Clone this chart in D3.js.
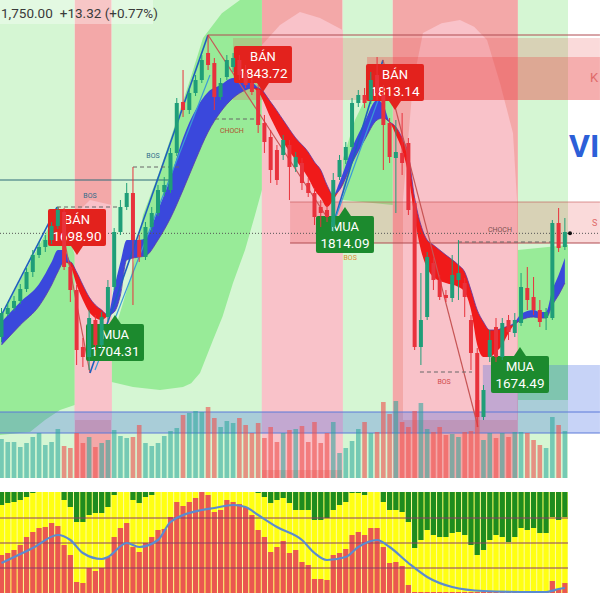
<!DOCTYPE html>
<html><head><meta charset="utf-8">
<script src="https://cdn.jsdelivr.net/npm/d3@7"></script>
<style>body{margin:0;background:#fff}svg{display:block}</style>
</head><body><svg id="c" width="600" height="600"></svg>
<script>
// ---------- DATA ----------
const opens=[1687.8,1701.6,1705.2,1709.4,1716.6,1726.8,1737,1741.8,1746,1754.4,1762.8,1729.8,1716,1681.8,1675.8,1698,1683,1699.8,1717.8,1750.8,1765.8,1774.2,1746,1735.8,1753.8,1762.2,1774.8,1776,1798.2,1828.8,1824,1834.2,1842,1858.2,1852.2,1831.8,1843.8,1849.8,1854,1846.2,1840.2,1836,1816.2,1807.8,1800,1797,1803,1789.8,1792.2,1780.2,1774.2,1765.8,1764,1753.8,1783.8,1794,1801.8,1828.2,1833,1830,1845,1833,1816.2,1795.2,1798.2,1804.2,1768.2,1681.8,1699.8,1732.2,1722,1713,1711.2,1722,1720.2,1698,1678.2,1639.8,1675.8,1693.8,1675.8,1698,1690.2,1696.2,1717.2,1711.8,1704,1699.2,1699.2,1756.2,1741.8];
const highs=[1705.2,1708.8,1712.4,1719.6,1729.2,1740,1744.8,1749,1756.8,1765.8,1765.2,1732.8,1719,1687.2,1704,1701,1702.8,1722,1753.2,1770,1780.2,1789.8,1749,1756.8,1765.8,1779,1783.8,1801.2,1831.2,1848,1837.2,1845,1857,1869,1855.2,1843.2,1857,1858.2,1857,1851,1843.2,1839,1821,1812,1803,1809,1806,1798.8,1795.2,1783.2,1777.2,1770,1767,1786.2,1797,1804.8,1831.2,1836,1837.2,1846.8,1855.8,1839,1819.2,1818,1822.2,1807.2,1771.2,1726.2,1738.8,1735.2,1725,1716,1737,1746,1723.2,1701,1681.2,1659,1692,1699.2,1699.2,1701,1702.2,1726.2,1729.8,1723.8,1710,1705.2,1758,1765.2,1759.2];
const lows=[1684.8,1700.4,1703.4,1707.6,1714.8,1723.8,1735.2,1738.8,1743.6,1752.6,1728,1708.8,1671,1669.8,1668,1680,1681.2,1696.8,1716,1749,1764,1707,1732.8,1734,1750.8,1760.4,1772.4,1774.2,1796.4,1819.8,1821.6,1832.4,1840.2,1848,1824,1830,1842,1846.8,1842,1837.2,1833,1810.2,1798.2,1780.2,1779,1794,1770,1786.8,1776,1771.8,1755,1753.8,1756.8,1750.8,1782,1791.6,1800,1825.8,1825.2,1827.6,1830,1788,1792.2,1762.2,1785,1761,1680,1671,1698,1716,1710,1708.8,1708.8,1710,1699.8,1668,1633.8,1638,1672.8,1672.8,1674,1686,1687.8,1694.4,1704,1701,1693.8,1692,1698,1738.8,1740];
const closes=[1702.2,1705.2,1709.4,1716.6,1726.8,1737,1741.8,1746,1754.4,1764,1729.8,1716,1680,1675.8,1699.2,1683,1699.8,1717.8,1750.8,1765.8,1774.2,1746,1735.8,1753.8,1762.2,1776,1779,1798.2,1828.2,1824,1834.2,1842,1854,1851,1831.8,1840.2,1854,1855.2,1845,1839,1834.8,1815,1804.8,1788,1782,1806,1789.8,1795.8,1780.2,1774.2,1759.8,1762.2,1759.8,1782,1794,1801.8,1828.2,1833,1828.2,1842,1834.2,1815,1795.8,1798.8,1792.2,1764,1681.8,1698,1735.8,1722,1711.8,1711.2,1725,1726.2,1711.8,1678.2,1639.8,1656,1686,1675.8,1696.2,1690.8,1698,1717.8,1710,1704,1696.8,1702.8,1756.2,1741.2,1750.8];
const volumes=[39,36,36,31,35,41,45,33,36,49,32,30,45,35,41,31,35,38,48,42,40,41,53,35,32,35,42,47,50,63,65,67,66,71,60,51,57,55,60,53,45,55,40,51,36,45,48,49,52,36,56,35,45,56,25,30,37,49,56,45,46,76,64,77,56,51,67,75,49,46,51,43,44,41,46,47,78,38,45,40,45,41,46,46,45,38,33,30,61,53,47];

const ribbonIdx=[0,3,6,8,9,10,11,12,13,14,15,16,17,18,19,20,22,23,25,27,29,31,33,35,37,39,40,41,43,45,47,49,50,51,52,53,54,56,58,60,61,62,63,64,65,66,67,68,69,71,73,74,75,76,77,78,79,80,81,82,83,85,86,87,88,89,90];
const emaFast=[1696.8,1708.8,1719.6,1732.8,1740,1740,1730.4,1719,1710,1702.8,1699.2,1698,1700.4,1717.2,1732.8,1746,1746,1747.2,1764,1783.2,1807.2,1824,1834.8,1839,1843.2,1843.2,1840.8,1834.8,1819.2,1804.8,1794,1783.2,1776,1771.2,1765.8,1770,1780.8,1801.2,1816.8,1830,1827,1816.8,1809,1800,1785,1759.2,1740,1729.2,1723.8,1720.2,1717.8,1714.8,1704,1683,1675.8,1675.8,1678.8,1683,1690.2,1696.8,1701.6,1704,1702.8,1702.8,1716,1725,1735.2];
const emaSlow=[1683,1695,1706.4,1719,1726.8,1732.8,1732.8,1726.8,1719,1711.8,1707,1704,1701,1702.8,1713,1734,1735.8,1736.4,1746,1759.2,1776,1794,1810.8,1822.8,1831.2,1836,1837.2,1837.2,1828.8,1818,1807.2,1798.8,1792.8,1788,1779,1773,1776,1792.2,1806,1818,1819.2,1816.8,1813.8,1807.2,1797,1771.2,1755,1746,1743,1737,1731,1726.8,1716,1704,1696.8,1692,1692,1693.2,1694.4,1695.6,1698,1699.8,1699.2,1699.2,1707,1713,1720.2];

const oscBear=[13,11,10,8,5,1,0,0,0,0,8,15,30,30,23,21,21,15,3,0,0,8,11,5,3,0,0,0,0,0,0,0,0,0,0,0,0,0,0,0,0,1,5,11,8,6,11,18,18,18,28,28,26,18,13,10,1,1,3,0,0,10,18,18,20,30,56,48,38,43,45,45,41,40,43,53,63,58,48,43,45,50,45,36,38,36,41,41,25,28,25];
const oscBull=[38,40,43,48,56,61,65,66,70,67,48,38,11,10,25,22,25,36,56,65,70,46,41,50,56,63,64,76,91,87,91,95,101,98,81,83,93,91,89,86,78,63,56,41,46,52,40,43,31,28,14,14,13,38,40,44,58,61,58,65,65,46,30,31,27,8,1,1,1,1,1,1,1,1,1,1,1,1,1,1,1,1,1,1,1,1,1,1,12,4,10];
const oscLineIdx=[0,5,9,11,13,16,17,20,22,25,27,32,34,37,39,41,44,48,50,52,55,57,60,62,65,68,72,77,85,87,89,90];
const oscLine=[30,45,58,53,40,34,36,50,46,53,71,83,85,88,86,78,66,53,40,33,36,46,53,46,30,16,6,2,1,1,4,5];
const oscLevels=[25,50,75];

const phaseStart=[-0.24,11.7,17.6,41.6,54.5,62.5,82.5];
const phaseEnd=[11.7,17.6,41.6,54.5,62.5,82.5,90.5];
const phaseType=['bull','bear','bull','bear','bull','bear','bull'];

const bullClouds=[
 [[-0.24,1699.2],[8.87,1762.8],[10.94,1746],[11.7,1737],[11.7,1647],[9.35,1644],[6.95,1638],[4.55,1630.8],[-0.24,1629]],
 [[17.6,1686],[20.53,1722],[22.6,1761],[25.32,1788],[27.72,1815],[30.11,1842],[32.19,1867.2],[35.2,1882],[38.1,1890],[41.6,1890],[41.6,1776],[40.5,1761],[38.9,1740],[36.98,1720.2],[35.3,1700],[33.79,1686],[31.71,1666.2],[30.3,1660],[28.99,1657.8],[25.32,1656],[21.01,1657.8],[17.6,1660.8]],
 [[54.5,1770],[54.5,1794],[56.47,1818],[59.19,1839],[60.46,1848],[62.5,1845],[62.5,1767]],
 [[82.5,1740],[90.5,1743],[90.5,1650],[82.5,1650]]
];
const bearClouds=[
 [[11.7,1761],[14.14,1770],[17.6,1767],[17.6,1638],[11.7,1638]],
 [[41.6,1863],[44.49,1875],[47.68,1882.8],[50.88,1879.2],[54.5,1872],[54.5,1608],[41.6,1608]],
 [[64.14,1638],[64.14,1770],[65.73,1840.2],[67.33,1870.2],[70.3,1876],[73.24,1878],[75.5,1874],[77.56,1866],[79.63,1840.2],[81.71,1810.2],[82.35,1770],[82.35,1638]]
];

const zoneStart=[36.98,58.4,46.1,-0.24,76.9];
const zoneEnd=[95.6,95.6,95.6,95.6,95.6];
const zoneTop=[1867.2,1855.8,1768.8,1642.8,1671];
const zoneBottom=[1830,1830,1744.2,1630.2,1642.8];
const zoneKind=['res','res2','res','sup','sup'];

const levelStart=[32.99,46.1,46.1,-0.24,-0.24,-0.24];
const levelEnd=[95.6,95.6,95.6,95.6,95.6,26.9];
const levelPrice=[1869,1768.8,1744.2,1642.8,1630.2,1782];
const levelKind=['res','resl','res','sup','sup','flat'];

const trendX1=[-0.24,9.03,14.14,14.94,32.99,52.96,52.96,60.94];
const trendP1=[1699.2,1765.8,1666.2,1668,1869,1755,1755,1854];
const trendX2=[8.87,14.14,32.99,33.31,52.48,60.94,60.46,76.12];
const trendP2=[1765.8,1666.2,1869,1845,1756.8,1854,1833,1633.8];
const trendKind=['bull','bear','bull','bull2','bear','bull','bull2','bear'];

const structX1=[8.87,21.01,34.1,66.85,72.92];
const structX2=[18.61,28.51,40.8,75.16,88.4];
const structPrice=[1765.8,1789.8,1818.6,1666.8,1744.8];
const structText=['BOS','BOS','CHOCH','BOS','CHOCH','BOS'];
const structTextIdx=[14.14,24.2,36.8,70.7,79.63,55.7];
const structTextPrice=[1771.2,1795.2,1810.2,1659.6,1750.8,1734];
const structTextColor=['#2e6b8a','#2e6b8a','#b0502d','#d04a4a','#7a5050','#e08a30'];

const labelIdx=[12.06,41.77,62.86,18.13,54.87,82.83];
const labelPrice=[1737,1834.8,1824,1701,1765.8,1681.8];
const labelSide=['BÁN','BÁN','BÁN','MUA','MUA','MUA'];
const labelValue=['1698.90','1843.72','1813.14','1704.31','1814.09','1674.49'];

const lastPrice=1750;
const headerPrice='1,750.00', headerChange='+13.32 (+0.77%)';

// ---------- SCALES ----------
const svg=d3.select('#c');
const x=d3.scaleLinear().domain([-0.24,90.5]).range([0,568]);
const y=d3.scaleLinear().domain([1890,1530]).range([0,600]);
const vy=d3.scaleLinear().domain([0,80]).range([478,398]);
const oy=d3.scaleLinear().domain([0,101]).range([593,492]);
const n=opens.length, idx=d3.range(n);
const FONT="Roboto, 'Liberation Sans', Arial, sans-serif";

svg.append('rect').attr('width',600).attr('height',600).attr('fill','#fff');

// phases
const gBg=svg.append('g');
phaseStart.forEach((s,k)=>gBg.append('rect').attr('x',x(s)).attr('y',0)
  .attr('width',x(phaseEnd[k])-x(s)).attr('height',vy(0))
  .attr('fill',phaseType[k]==='bull'?'#d5f6d3':'#f3a8a8'));
const poly=d3.line().x(d=>x(d[0])).y(d=>y(d[1])).curve(d3.curveLinearClosed);
bullClouds.forEach(c=>gBg.append('path').attr('d',poly(c)).attr('fill','#98eb98'));
bearClouds.forEach(c=>gBg.append('path').attr('d',poly(c)).attr('fill','#f9c2c9'));

// zones
const zoneFill={res:'rgba(232,72,72,0.20)',res2:'rgba(232,60,60,0.28)',sup:'rgba(70,110,230,0.30)'};
zoneStart.forEach((s,k)=>svg.append('rect').attr('x',x(s)).attr('y',y(zoneTop[k]))
  .attr('width',x(zoneEnd[k])-x(s)).attr('height',y(zoneBottom[k])-y(zoneTop[k]))
  .attr('fill',zoneFill[zoneKind[k]]));
const levelColor={res:'#b04a50',resl:'rgba(190,70,70,0.55)',sup:'#5a78d8',flat:'#2d6b78'};
levelPrice.forEach((p,k)=>svg.append('line').attr('x1',x(levelStart[k])).attr('x2',x(levelEnd[k]))
  .attr('y1',y(p)).attr('y2',y(p)).attr('stroke',levelColor[levelKind[k]]).attr('stroke-width',1));

// volume
idx.forEach(i=>svg.append('rect').attr('x',x(i)-2.3).attr('width',4.6)
  .attr('y',vy(volumes[i])).attr('height',vy(0)-vy(volumes[i]))
  .attr('fill',closes[i]>=opens[i]?'rgba(38,166,154,0.55)':'rgba(239,83,80,0.62)'));

// ribbon
const rib=ribbonIdx.map((r,k)=>({i:r,f:emaFast[k],s:emaSlow[k]}));
const areaUp=d3.area().x(d=>x(d.i)).y0(d=>y(d.s)).y1(d=>y(Math.max(d.f,d.s))).curve(d3.curveMonotoneX);
const areaDn=d3.area().x(d=>x(d.i)).y0(d=>y(d.s)).y1(d=>y(Math.min(d.f,d.s))).curve(d3.curveMonotoneX);
svg.append('path').attr('d',areaUp(rib)).attr('fill','#3a48dc');
svg.append('path').attr('d',areaDn(rib)).attr('fill','#f01a1a');
svg.append('path').attr('d',d3.line().x(d=>x(d.i)).y(d=>y(d.s)).curve(d3.curveMonotoneX)(rib))
  .attr('fill','none').attr('stroke','#5b3aa8').attr('stroke-width',1).attr('opacity',0.8);

// trend lines
const trendColor={bull:'#1f5fbf',bull2:'#3b9bd6',bear:'#c75555'};
trendX1.forEach((a,k)=>svg.append('line').attr('x1',x(a)).attr('y1',y(trendP1[k]))
  .attr('x2',x(trendX2[k])).attr('y2',y(trendP2[k])).attr('stroke',trendColor[trendKind[k]])
  .attr('stroke-width',trendKind[k]==='bull'?1.6:1.2));

// structure lines
structX1.forEach((a,k)=>svg.append('line').attr('x1',x(a)).attr('x2',x(structX2[k]))
  .attr('y1',y(structPrice[k])).attr('y2',y(structPrice[k])).attr('stroke','#666')
  .attr('stroke-width',1).attr('stroke-dasharray','4,3'));
structTextIdx.forEach((a,k)=>svg.append('text').attr('x',x(a)).attr('y',y(structTextPrice[k]))
  .attr('text-anchor','middle').attr('font-family',FONT).attr('font-size',7)
  .attr('fill',structTextColor[k]).text(structText[k]));

// current price line
svg.append('line').attr('x1',0).attr('x2',600).attr('y1',y(lastPrice)).attr('y2',y(lastPrice))
  .attr('stroke','#555').attr('stroke-width',1).attr('stroke-dasharray','1,2');

// labels
labelIdx.forEach((a,k)=>{
  const cx=x(a), ty=y(labelPrice[k]), w=58, h=37, sell=labelSide[k]==='BÁN';
  const top=sell?ty-9-h:ty+9, col=sell?'#e3221d':'#1c8a2e';
  const by=sell?top+h:top;
  svg.append('path').attr('d',`M${cx-6},${by} L${cx},${ty} L${cx+6},${by}Z`).attr('fill',col);
  svg.append('rect').attr('x',cx-w/2).attr('y',top).attr('width',w).attr('height',h).attr('rx',2).attr('fill',col);
  svg.append('text').attr('x',cx).attr('y',top+15).attr('text-anchor','middle').attr('font-family',FONT)
    .attr('font-size',13).attr('fill','#fff').text(labelSide[k]);
  svg.append('text').attr('x',cx).attr('y',top+32).attr('text-anchor','middle').attr('font-family',FONT)
    .attr('font-size',13.5).attr('fill','#fff').text(labelValue[k]);
});

// candles
idx.forEach(i=>{
  const up=closes[i]>=opens[i], col=up?'#1f9e78':'#e8323c';
  svg.append('line').attr('x1',x(i)).attr('x2',x(i)).attr('y1',y(highs[i])).attr('y2',y(lows[i]))
    .attr('stroke',col).attr('stroke-width',1);
  const t=y(Math.max(opens[i],closes[i])), b=y(Math.min(opens[i],closes[i]));
  svg.append('rect').attr('x',x(i)-2).attr('width',4).attr('y',t).attr('height',Math.max(1,b-t)).attr('fill',col);
});
svg.append('circle').attr('cx',570).attr('cy',y(lastPrice)).attr('r',2).attr('fill','#111');

// header text
svg.append('rect').attr('x',0).attr('y',0).attr('width',153).attr('height',24).attr('fill','rgba(255,255,255,0.35)');
const ht=svg.append('text').attr('x',1).attr('y',18).attr('font-family',FONT).attr('font-size',13.5).attr('fill','#3a3a3a');
ht.append('tspan').text(headerPrice);
ht.append('tspan').attr('dx',7).text(headerChange);
svg.append('text').attr('x',569).attr('y',157).attr('font-family',FONT).attr('font-weight','bold')
  .attr('font-size',32).attr('fill','#2c5fd8').text('VI');
svg.append('text').attr('x',590).attr('y',82).attr('font-family',FONT).attr('font-size',13).attr('fill','#e06a6a').text('K');
svg.append('text').attr('x',592).attr('y',226).attr('font-family',FONT).attr('font-size',9).attr('fill','#e06a6a').text('S');

// oscillator panel
const lp=svg.append('g');
lp.append('rect').attr('x',0).attr('y',oy(101)).attr('width',568).attr('height',oy(0)-oy(101)).attr('fill','#fbfb9e');
idx.forEach(i=>{
  lp.append('rect').attr('x',x(i)-2.6).attr('width',5.2).attr('y',oy(101)).attr('height',oy(0)-oy(101)).attr('fill','#ffff12');
  if(oscBear[i]>0) lp.append('rect').attr('x',x(i)-2.6).attr('width',5.2).attr('y',oy(101))
    .attr('height',oy(101-oscBear[i])-oy(101)).attr('fill','#1e8c1e');
  if(oscBull[i]>0) lp.append('rect').attr('x',x(i)-2.6).attr('width',5.2).attr('y',oy(oscBull[i]))
    .attr('height',oy(0)-oy(oscBull[i])).attr('fill','#ea5750');
});
oscLevels.forEach(v=>lp.append('line').attr('x1',0).attr('x2',568).attr('y1',oy(v)).attr('y2',oy(v))
  .attr('stroke','#8b3a6b').attr('stroke-width',1));
lp.append('path').attr('d',d3.line().x((d,k)=>x(oscLineIdx[k])).y(d=>oy(d)).curve(d3.curveMonotoneX)(oscLine))
  .attr('fill','none').attr('stroke','#5a8bd0').attr('stroke-width',2.2);
</script></body></html>
